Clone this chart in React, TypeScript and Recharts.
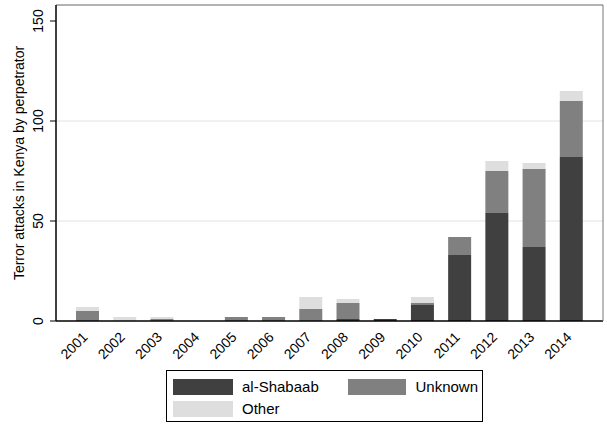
import { BarChart, Bar, XAxis, YAxis, CartesianGrid, ReferenceLine, Legend } from "recharts";

const years = ["2001", "2002", "2003", "2004", "2005", "2006", "2007", "2008", "2009", "2010", "2011", "2012", "2013", "2014"];
const alShabaab = [0, 0, 0, 0, 0, 0, 0, 1, 1, 8, 33, 54, 37, 82];
const unknown = [5, 0, 1, 0, 2, 2, 6, 8, 0, 1, 9, 21, 39, 28];
const other = [2, 2, 1, 0, 0, 0, 6, 2, 0, 3, 0, 5, 3, 5];
const yTicks = [0, 50, 100, 150];
const gridValues = [50, 100];

const data = years.map((year, i) => ({
  year,
  alShabaab: alShabaab[i],
  unknown: unknown[i],
  other: other[i],
}));

const FONT = "'Liberation Sans', Arial, Helvetica, sans-serif";

const series = [
  { key: "alShabaab", name: "al-Shabaab", color: "#404040" },
  { key: "unknown", name: "Unknown", color: "#808080" },
  { key: "other", name: "Other", color: "#dedede" },
];

function YTick({ x, y, payload }: any) {
  return (
    <text
      x={x - 5}
      y={y}
      transform={`rotate(-90, ${x - 5}, ${y})`}
      textAnchor="middle"
      fontSize={14}
      fill="#000"
      fontFamily={FONT}
    >
      {payload.value}
    </text>
  );
}

function XTick({ x, y, payload }: any) {
  const tx = x + 1;
  const ty = y + 9;
  return (
    <text
      x={tx}
      y={ty}
      transform={`rotate(-45, ${tx}, ${ty})`}
      textAnchor="end"
      fontSize={14}
      fill="#000"
      fontFamily={FONT}
    >
      {payload.value}
    </text>
  );
}

function LegendBox() {
  const item = (s: (typeof series)[number]) => (
    <div key={s.key} style={{ display: "flex", alignItems: "center", height: 21 }}>
      <span style={{ display: "inline-block", width: 60, height: 16, background: s.color, marginRight: 9 }} />
      <span>{s.name}</span>
    </div>
  );
  return (
    <div
      style={{
        border: "1px solid #000",
        boxSizing: "border-box",
        width: 317,
        height: 52,
        padding: "5px 6px",
        fontFamily: FONT,
        fontSize: 15,
        color: "#000",
        display: "grid",
        gridTemplateColumns: "175px 130px",
        rowGap: 1,
      }}
    >
      {item(series[0])}
      {item(series[1])}
      {item(series[2])}
    </div>
  );
}

export default function App() {
  return (
    <div style={{ position: "absolute", left: 0, top: 0, width: 607, height: 424, background: "#fff" }}>
      <BarChart
        width={607}
        height={424}
        data={data}
        margin={{ top: 5, right: 3, left: 0, bottom: 53 }}
        barCategoryGap={0}
      >
        <CartesianGrid vertical={false} horizontalValues={gridValues} stroke="#e2e2e2" />
        <XAxis
          dataKey="year"
          height={50}
          padding={{ left: 13, right: 13 }}
          tickLine={false}
          axisLine={{ stroke: "#000", strokeWidth: 1.5 }}
          tick={<XTick />}
          interval={0}
        />
        <YAxis
          domain={[0, 158]}
          ticks={yTicks}
          width={56}
          tickSize={6}
          tickLine={{ stroke: "#000" }}
          axisLine={{ stroke: "#000", strokeWidth: 1.5 }}
          tick={<YTick />}
          label={{
            value: "Terror attacks in Kenya by perpetrator",
            angle: -90,
            position: "insideLeft",
            offset: 0,
            dx: 19,
            style: { textAnchor: "middle", fontSize: 14, fontFamily: FONT, fill: "#000" },
          }}
          allowDataOverflow
        />
        <YAxis
          yAxisId="right"
          orientation="right"
          width={1}
          tick={false}
          tickLine={false}
          axisLine={{ stroke: "#777" }}
        />
        <ReferenceLine y={158} stroke="#666" strokeWidth={1} />
        {series.map((s) => (
          <Bar
            key={s.key}
            dataKey={s.key}
            name={s.name}
            stackId="a"
            fill={s.color}
            barSize={23}
            isAnimationActive={false}
          />
        ))}
        <Legend
          layout="vertical"
          align="center"
          verticalAlign="middle"
          wrapperStyle={{ top: 370, left: 166, width: 317, height: 52 }}
          content={() => <LegendBox />}
        />
      </BarChart>
    </div>
  );
}
